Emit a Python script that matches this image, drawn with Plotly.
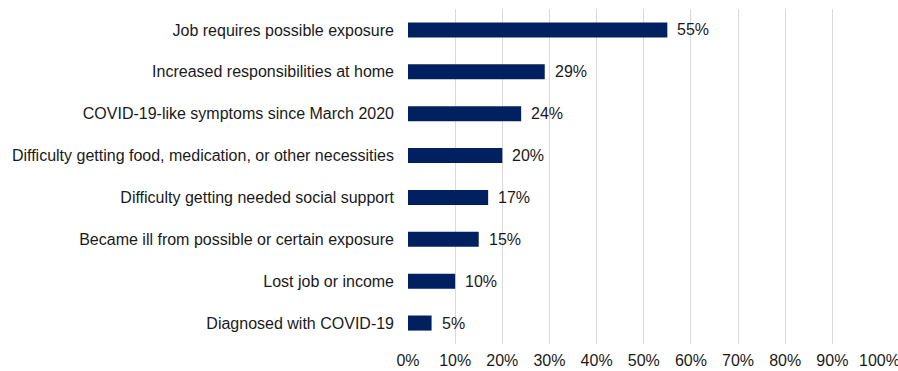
import plotly.graph_objects as go

categories = [
    "Job requires possible exposure",
    "Increased responsibilities at home",
    "COVID-19-like symptoms since March 2020",
    "Difficulty getting food, medication, or other necessities",
    "Difficulty getting needed social support",
    "Became ill from possible or certain exposure",
    "Lost job or income",
    "Diagnosed with COVID-19",
]
values = [55, 29, 24, 20, 17, 15, 10, 5]
x_ticks = [0, 10, 20, 30, 40, 50, 60, 70, 80, 90, 100]

font_family = "Liberation Sans, Arial, sans-serif"
text_color = "#1a1a1a"

fig = go.Figure(
    go.Bar(
        x=values,
        y=categories,
        orientation="h",
        marker=dict(color="#002060", line=dict(width=0)),
        hoverinfo="x+y",
    )
)

# value labels just past the end of each bar
for cat, v in zip(categories, values):
    fig.add_annotation(
        x=v, y=cat, xref="x", yref="y",
        text=f"{v}%", showarrow=False,
        xanchor="left", yanchor="middle", xshift=8,
        font=dict(size=16, color=text_color, family=font_family),
    )

fig.update_layout(
    width=898,
    height=371,
    margin=dict(l=408, r=18, t=9, b=27),
    paper_bgcolor="white",
    plot_bgcolor="white",
    bargap=0.64,
    showlegend=False,
    font=dict(family=font_family, size=16, color=text_color),
)

fig.update_xaxes(
    range=[0, 100.1],
    tickvals=x_ticks,
    ticktext=[f"{t}%" for t in x_ticks],
    showgrid=True,
    gridcolor="#d9d9d9",
    gridwidth=1,
    zeroline=False,
    showline=False,
    ticks="",
    ticklabelstandoff=5,
    ticklabeloverflow="allow",
    automargin=False,
    tickfont=dict(size=16),
)

fig.update_yaxes(
    categoryorder="array",
    categoryarray=categories[::-1],
    showgrid=False,
    showline=False,
    ticks="",
    ticklabelstandoff=13,
    automargin=False,
    tickfont=dict(size=16),
)

fig.write_html("out.html")
